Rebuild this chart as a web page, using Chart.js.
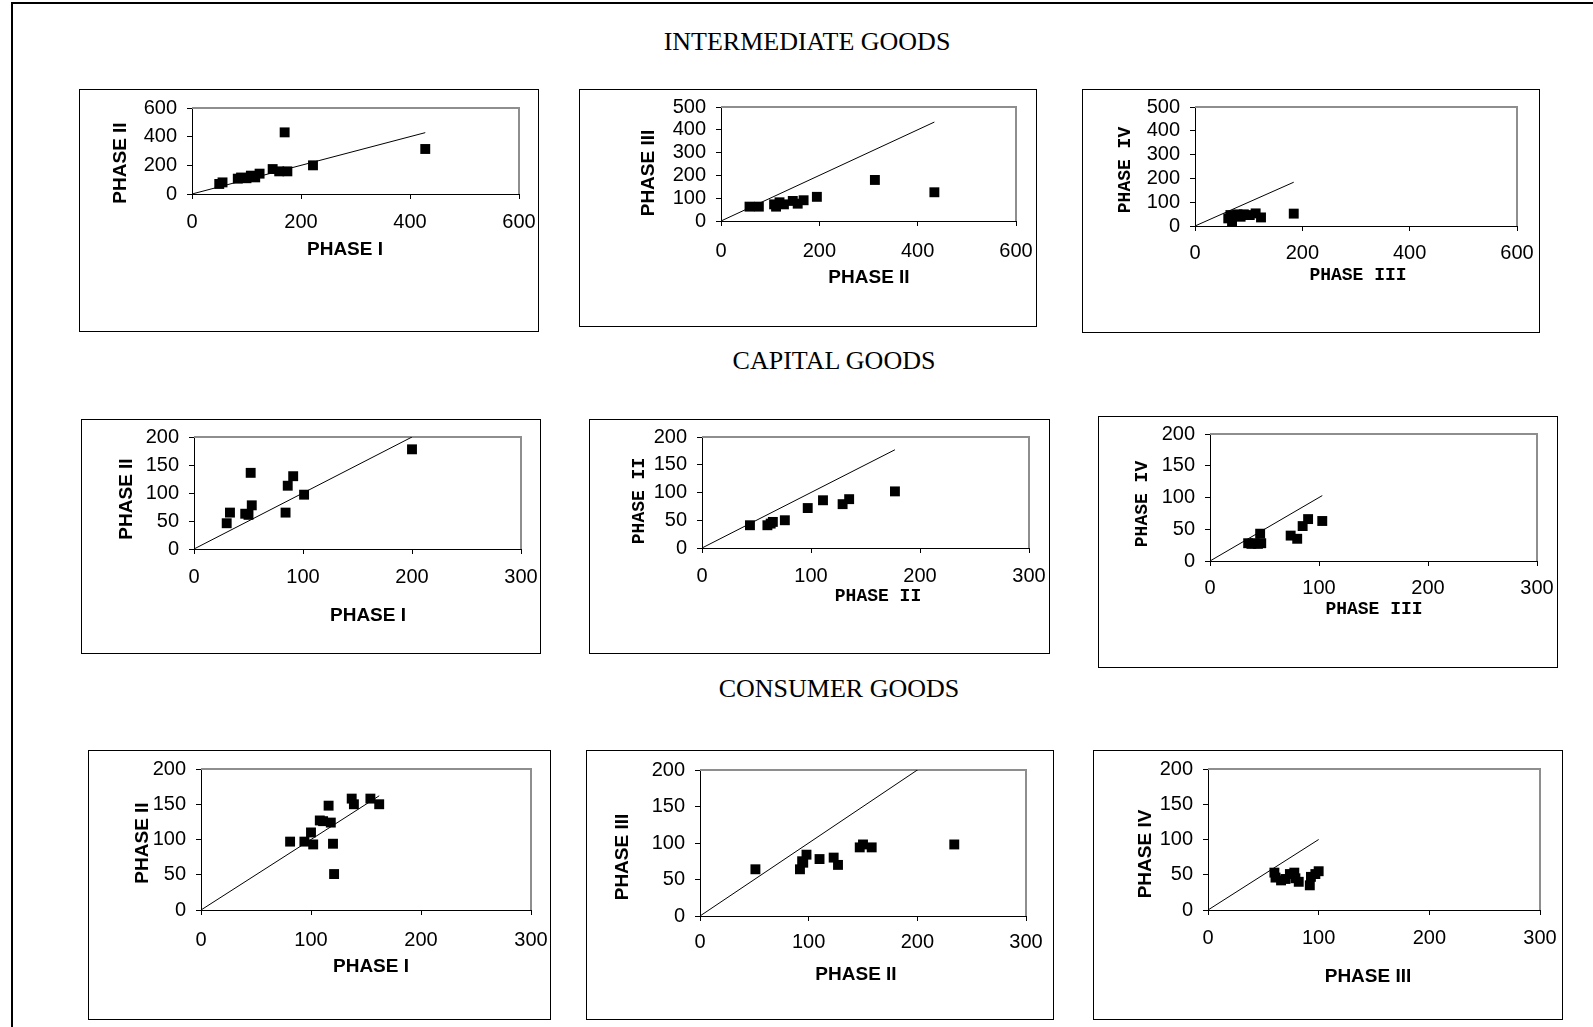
<!DOCTYPE html>
<html>
<head>
<meta charset="utf-8">
<script src="https://cdn.jsdelivr.net/npm/chart.js@4.4.0/dist/chart.umd.min.js"></script>
<style>
  html, body { margin: 0; padding: 0; background: #fff; }
  body { width: 1593px; height: 1027px; position: relative; overflow: hidden; }
  #frame { position: absolute; left: 11px; top: 2px; width: 1700px; height: 1100px;
           border-left: 2px solid #000; border-top: 2px solid #000; }
  .sec { position: absolute; transform: translate(-50%, -50%); white-space: nowrap; line-height: 1;
         font: 26px "Liberation Serif", "Times New Roman", serif; color: #000; }
  .box { position: absolute; border: 1px solid #000; box-sizing: border-box; background: #fff; }
  .box canvas { position: absolute; left: 0; top: 0; }
</style>
</head>
<body>
<div id="frame"></div>
<div class="sec" style="left:807px;top:42px">INTERMEDIATE GOODS</div>
<div class="sec" style="left:834px;top:361px">CAPITAL GOODS</div>
<div class="sec" style="left:839px;top:689px">CONSUMER GOODS</div>
<script>
/* Phase-to-phase scatter panels, one y = x reference line per panel. */

// Intermediate goods
const int12x = [50, 56, 84, 90, 94, 100, 108, 116, 124, 148, 160, 175, 170, 222, 428];
const int12y = [70, 81, 107, 115, 112, 110, 128, 116, 142, 174, 158, 158, 430, 200, 314];
const int23x = [58, 77, 108, 112, 119, 128, 146, 156, 168, 195, 313, 434];
const int23y = [63, 63, 73, 63, 82, 73, 88, 76, 91, 106, 180, 126];
const int34x = [62, 66, 69, 79, 85, 91, 102, 113, 123, 184];
const int34y = [32, 46, 18, 49, 39, 49, 46, 53, 36, 52];

// Capital goods
const cap12x = [30, 33, 47, 50, 52, 53, 84, 86, 91, 101, 200];
const cap12y = [46, 65, 63, 61, 136, 78, 65, 113, 130, 97, 178];
const cap23x = [44, 60, 63, 65, 76, 97, 111, 129, 135, 177];
const cap23y = [41, 41, 44, 47, 50, 72, 86, 79, 88, 102];
const cap34x = [35, 38, 41, 44, 46, 47, 74, 80, 85, 90, 103];
const cap34y = [28, 27, 28, 27, 43, 28, 40, 35, 55, 66, 63];

// Consumer goods
const con12x = [81, 94, 100, 102, 108, 111, 116, 118, 120, 121, 137, 139, 154, 162];
const con12y = [97, 97, 110, 93, 127, 126, 148, 124, 94, 51, 158, 150, 158, 150];
const con23x = [51, 92, 94, 95, 98, 110, 123, 127, 147, 150, 158, 234];
const con23y = [64, 64, 75, 73, 84, 78, 80, 70, 94, 98, 94, 98];
const con34x = [60, 61, 66, 70, 74, 78, 79, 82, 92, 93, 97, 100];
const con34y = [53, 46, 42, 44, 51, 53, 45, 40, 35, 47, 51, 55];

const xVals = [int12x, int23x, int34x, cap12x, cap23x, cap34x, con12x, con23x, con34x];
const yVals = [int12y, int23y, int34y, cap12y, cap23y, cap34y, con12y, con23y, con34y];

// axes
const xMax = [600, 600, 600, 300, 300, 300, 300, 300, 300];
const xStep = [200, 200, 200, 100, 100, 100, 100, 100, 100];
const yMax = [600, 500, 500, 200, 200, 200, 200, 200, 200];
const yStep = [200, 100, 100, 50, 50, 50, 50, 50, 50];
const xTitles = ["PHASE I", "PHASE II", "PHASE III", "PHASE I", "PHASE II", "PHASE III", "PHASE I", "PHASE II", "PHASE III"];
const yTitles = ["PHASE II", "PHASE III", "PHASE IV", "PHASE II", "PHASE II", "PHASE IV", "PHASE II", "PHASE III", "PHASE IV"];
const monoTitles = [false, false, true, false, true, true, false, false, false];

// page geometry: box and plot as [left, top, right, bottom], title centres, x label centre line
const layout = [
  { box: [79, 89, 538, 331],    plot: [192, 108, 519, 194],   yT: [121, 163],  xT: [345, 250],  xLab: 222 },
  { box: [579, 89, 1036, 326],  plot: [721, 107, 1016, 221],  yT: [649, 173],  xT: [869, 278],  xLab: 251 },
  { box: [1082, 89, 1539, 332], plot: [1195, 107, 1517, 226], yT: [1125, 170], xT: [1358, 275], xLab: 253 },
  { box: [81, 419, 540, 653],   plot: [194, 437, 521, 549],   yT: [127, 499],  xT: [368, 616],  xLab: 577 },
  { box: [589, 419, 1049, 653], plot: [702, 437, 1029, 548],  yT: [639, 501],  xT: [878, 596],  xLab: 576 },
  { box: [1098, 416, 1557, 667], plot: [1210, 434, 1537, 561], yT: [1142, 504], xT: [1374, 609], xLab: 588 },
  { box: [88, 750, 550, 1019],  plot: [201, 769, 531, 910],   yT: [143, 843],  xT: [371, 967],  xLab: 940 },
  { box: [586, 750, 1053, 1019], plot: [700, 770, 1026, 916], yT: [623, 857],  xT: [856, 975],  xLab: 942 },
  { box: [1093, 750, 1562, 1019], plot: [1208, 769, 1540, 910], yT: [1146, 854], xT: [1368, 977], xLab: 938 },
];

const TICK_SIZE = 20;
const tickFont = { family: "'Liberation Sans', Arial, Helvetica, sans-serif", size: TICK_SIZE };
const sansTitle = "bold 19px 'Liberation Sans', Arial, sans-serif";
const monoTitle = "bold 18px 'Liberation Mono', 'Courier New', monospace";

// grey top/right edge of the plot area, Excel style
const plotFrame = {
  id: "plotFrame",
  beforeDatasetsDraw(chart) {
    const { ctx, chartArea: a } = chart;
    ctx.save();
    ctx.strokeStyle = "#8e8e8e";
    ctx.lineWidth = 2;
    ctx.beginPath();
    ctx.moveTo(a.left, a.top);
    ctx.lineTo(a.right, a.top);
    ctx.lineTo(a.right, a.bottom);
    ctx.stroke();
    ctx.restore();
  },
};

// axis titles placed where the original puts them
const panelTitles = {
  id: "panelTitles",
  afterDraw(chart, args, o) {
    const ctx = chart.ctx;
    ctx.save();
    ctx.fillStyle = "#000";
    ctx.textAlign = "center";
    ctx.textBaseline = "middle";
    ctx.font = o.font;
    ctx.fillText(o.xText, o.xX, o.xY);
    ctx.translate(o.yX, o.yY);
    ctx.rotate(-Math.PI / 2);
    ctx.fillText(o.yText, 0, 0);
    ctx.restore();
  },
};

function build(i) {
  const L = layout[i];
  const [bl, bt, br, bb] = L.box;
  const [pl, pt, pr, pb] = L.plot;
  const W = br - bl + 1, H = bb - bt + 1;
  const ox = bl + 1, oy = bt + 1, cw = W - 2, ch = H - 2;

  const box = document.createElement("div");
  box.className = "box";
  box.style.cssText = `left:${bl}px;top:${bt}px;width:${W}px;height:${H}px`;
  const cv = document.createElement("canvas");
  cv.width = cw;
  cv.height = ch;
  cv.style.width = cw + "px";
  cv.style.height = ch + "px";
  box.appendChild(cv);
  document.body.appendChild(box);

  const xs = xVals[i], ys = yVals[i];
  const end = Math.max(...xs);
  const yw = pl - ox;
  const xh = oy + ch - pb;

  new Chart(cv, {
    type: "scatter",
    data: {
      datasets: [
        {
          data: xs.map((x, j) => ({ x, y: ys[j] })),
          pointStyle: "rect",
          pointRadius: 7,
          pointHoverRadius: 7,
          backgroundColor: "#000",
          borderColor: "#000",
          borderWidth: 0,
        },
        {
          data: [{ x: 0, y: 0 }, { x: end, y: end }],
          showLine: true,
          borderColor: "#000",
          borderWidth: 1,
          pointRadius: 0,
          pointHoverRadius: 0,
        },
      ],
    },
    options: {
      responsive: false,
      animation: false,
      devicePixelRatio: 1,
      events: [],
      layout: { padding: { left: 0, top: pt - oy, right: ox + cw - pr, bottom: 0 } },
      plugins: {
        legend: { display: false },
        tooltip: { enabled: false },
        panelTitles: {
          font: monoTitles[i] ? monoTitle : sansTitle,
          xText: xTitles[i], xX: L.xT[0] - ox, xY: L.xT[1] - oy,
          yText: yTitles[i], yX: L.yT[0] - ox, yY: L.yT[1] - oy,
        },
      },
      scales: {
        x: {
          type: "linear",
          min: 0,
          max: xMax[i],
          ticks: { stepSize: xStep[i], color: "#000", font: tickFont, maxRotation: 0, autoSkip: false,
                   padding: L.xLab - pb - 5 - TICK_SIZE * 0.6 },
          grid: { drawOnChartArea: false, drawTicks: true, tickLength: 5, color: "#000" },
          border: { color: "#000", width: 1 },
          afterFit: (s) => { s.height = xh; s.paddingLeft = 0; s.paddingRight = 0; },
        },
        y: {
          type: "linear",
          min: 0,
          max: yMax[i],
          ticks: { stepSize: yStep[i], color: "#000", font: tickFont, padding: 10, autoSkip: false },
          grid: { drawOnChartArea: false, drawTicks: true, tickLength: 5, color: "#000" },
          border: { color: "#000", width: 1 },
          afterFit: (s) => { s.width = yw; s.paddingTop = 0; s.paddingBottom = 0; },
        },
      },
    },
    plugins: [plotFrame, panelTitles],
  });
}

layout.forEach((_, i) => build(i));
</script>
</body>
</html>
